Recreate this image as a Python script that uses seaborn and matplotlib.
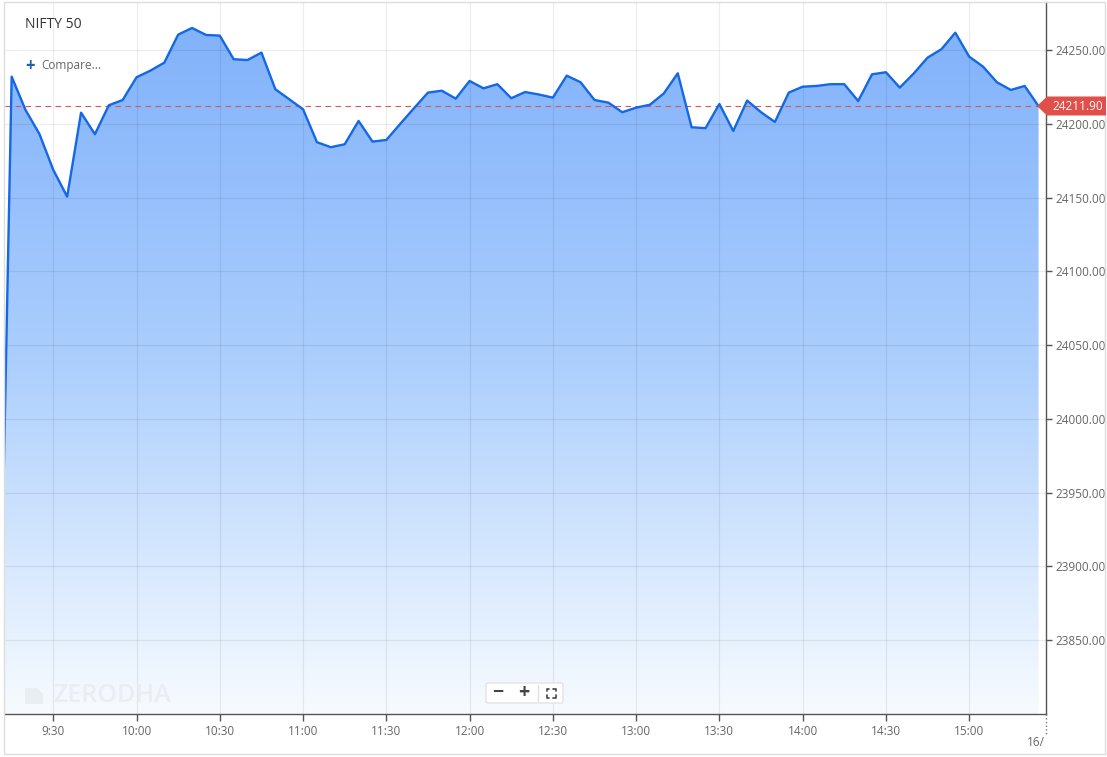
import matplotlib
matplotlib.use("Agg")
import matplotlib.pyplot as plt
import matplotlib.patches as mpatches
from matplotlib.colors import LinearSegmentedColormap
from matplotlib.lines import Line2D
import numpy as np
import pandas as pd
import seaborn as sns

W, H = 1107, 757

# 5-minute closes for NIFTY 50, first print is the pre-open one
times = pd.date_range("2024-12-13 09:10", "2024-12-13 15:25", freq="5min")
closes = [
    23760.0,
    24231.9, 24209.3, 24193.1, 24168.7, 24150.6, 24207.5, 24192.9, 24212.5, 24216.1,
    24231.5, 24236.0, 24241.4, 24260.4, 24264.9, 24260.2, 24259.7, 24243.7, 24243.2,
    24248.2, 24223.4, 24216.6, 24209.8, 24187.5, 24184.1, 24186.1, 24201.9, 24187.9,
    24189.0, 24199.9, 24210.6, 24221.1, 24222.4, 24217.0, 24229.0, 24224.0, 24226.8,
    24217.3, 24221.5, 24219.8, 24217.7, 24232.6, 24228.1, 24216.1, 24214.3, 24207.8,
    24210.9, 24212.9, 24220.6, 24234.2, 24197.6, 24197.0, 24213.4, 24195.1, 24215.7,
    24207.8, 24201.2, 24221.1, 24225.1, 24225.6, 24226.8, 24226.8, 24215.4, 24233.5,
    24234.9, 24224.5, 24234.0, 24244.8, 24250.5, 24261.7, 24245.5, 24238.7, 24228.1,
    24222.9, 24225.6, 24211.9,
]
last_price = 24211.90
y_ticks = [23850, 23900, 23950, 24000, 24050, 24100, 24150, 24200, 24250]
x_tick_labels = ["9:30", "10:00", "10:30", "11:00", "11:30", "12:00", "12:30",
                 "13:00", "13:30", "14:00", "14:30", "15:00"]

df = pd.DataFrame({"time": times, "close": closes})
df["minute"] = df["time"].dt.hour * 60 + df["time"].dt.minute
x_ticks = [int(t.split(":")[0]) * 60 + int(t.split(":")[1]) for t in x_tick_labels]

sns.set_style("white")
plt.rcParams["font.family"] = ["Open Sans", "DejaVu Sans"]


def fx(px):
    return px / W


def fy(py):
    return 1 - py / H


fig = plt.figure(figsize=(W / 100, H / 100), dpi=100)
ax = fig.add_axes([fx(5), fy(714), (1045.5 - 5) / W, (714 - 2) / H])

xmin, xmax = 552.6, 927.5
ymin, ymax = 23800, 24282.5

# gradient area under the line
cmap = LinearSegmentedColormap.from_list("area", ["#7fb0fb", "#abcefd", "#f7fbff"])
grad = np.linspace(0, 1, 256).reshape(-1, 1)
img = ax.imshow(grad, cmap=cmap, aspect="auto", extent=[xmin, xmax, ymin, ymax], zorder=1)
area = ax.fill_between(df["minute"], df["close"], ymin, color="none", lw=0)
img.set_clip_path(area.get_paths()[0], transform=ax.transData)

sns.lineplot(data=df, x="minute", y="close", ax=ax, color="#1468e6", linewidth=1.7, zorder=4)

ax.plot([xmin, df["minute"].iloc[-1]], [last_price, last_price], color="#d45a57",
        lw=0.8, dashes=(5, 4), zorder=3)

ax.set_xlim(xmin, xmax)
ax.set_ylim(ymin, ymax)
ax.set_xticks(x_ticks)
ax.set_xticklabels(x_tick_labels)
ax.set_yticks(y_ticks)
ax.set_yticklabels([f"{v:.2f}" for v in y_ticks])
ax.yaxis.tick_right()
ax.set_xlabel("")
ax.set_ylabel("")
ax.grid(True, color="black", alpha=0.07, lw=0.9)
ax.set_axisbelow(False)
ax.tick_params(axis="y", length=4, width=1, color="#555555", labelcolor="#666666",
               labelsize=8.5, pad=3, right=True, left=False)
ax.tick_params(axis="x", length=5, width=1, color="#555555", labelcolor="#666666",
               labelsize=8.5, pad=3, bottom=True)
for s in ["top", "left"]:
    ax.spines[s].set_visible(False)
for s in ["right", "bottom"]:
    ax.spines[s].set_color("#555555")
    ax.spines[s].set_linewidth(1)

# outer frame
fig.patches.append(mpatches.Rectangle((fx(4), fy(754)), fx(1105 - 4), (754 - 2) / H,
                                      transform=fig.transFigure, fill=False,
                                      edgecolor="#dddddd", lw=1))

# last price tag
tag = [(1037, 106), (1047, 96.5), (1106, 96.5), (1106, 115.5), (1047, 115.5)]
fig.patches.append(mpatches.Polygon([(fx(a), fy(b)) for a, b in tag], closed=True,
                                    transform=fig.transFigure, facecolor="#e0504b",
                                    edgecolor="none", zorder=5))
fig.text(fx(1052), fy(106), f"{last_price:.2f}", color="white", fontsize=8.5,
         ha="left", va="center", zorder=6)

# end-of-day dotted tick and clipped date label
fig.lines.append(Line2D([fx(1045.5), fx(1045.5)], [fy(714), fy(736)], transform=fig.transFigure,
                        color="#777777", lw=1, ls=":"))
fig.text(fx(1045), fy(742), "16/", color="#666666", fontsize=8.5, ha="right", va="center")

# header texts
fig.text(fx(25), fy(25), "NIFTY 50", color="#333333", fontsize=10, ha="left", va="center")
fig.text(fx(30), fy(66), "+", color="#1f5fb8", fontsize=12, fontweight="bold",
         ha="center", va="center")
fig.text(fx(41), fy(66), "Compare...", color="#666666", fontsize=8.5, ha="left", va="center")

# watermark
fig.patches.append(mpatches.Polygon([(fx(a), fy(b)) for a, b in
                                     [(25, 688), (37, 688), (43, 694), (43, 704), (25, 704)]],
                                    closed=True, transform=fig.transFigure,
                                    facecolor="#eaeef3", edgecolor="none", zorder=5))
fig.text(fx(53), fy(696), "ZERODHA", color="#eaeef3", fontsize=18, fontweight="semibold",
         ha="left", va="center", zorder=5)

# zoom controls
fig.patches.append(mpatches.FancyBboxPatch((fx(486), fy(703)), fx(563 - 486), (703 - 683) / H,
                                           boxstyle="round,pad=0,rounding_size=0.002",
                                           transform=fig.transFigure, facecolor="white",
                                           edgecolor="#e3e3e3", lw=1, zorder=5))
fig.text(fx(497.5), fy(693), "\u2212", color="#444444", fontsize=14, fontweight="bold",
         ha="center", va="center", zorder=6)
fig.text(fx(524), fy(693), "+", color="#444444", fontsize=14, fontweight="bold",
         ha="center", va="center", zorder=6)
fig.lines.append(Line2D([fx(538), fx(538)], [fy(685), fy(701)], transform=fig.transFigure,
                        color="#e0e0e0", lw=1, zorder=6))
cx, cy, r, c = 551, 693, 4.5, 2.5
for sx in (-1, 1):
    for sy in (-1, 1):
        xs = [cx + sx * r, cx + sx * r, cx + sx * (r - c)]
        ys = [cy + sy * (r - c), cy + sy * r, cy + sy * r]
        fig.lines.append(Line2D([fx(v) for v in xs], [fy(v) for v in ys],
                                transform=fig.transFigure, color="#444444", lw=1.2, zorder=6))

fig.savefig("out.png", dpi=100, facecolor="white")
